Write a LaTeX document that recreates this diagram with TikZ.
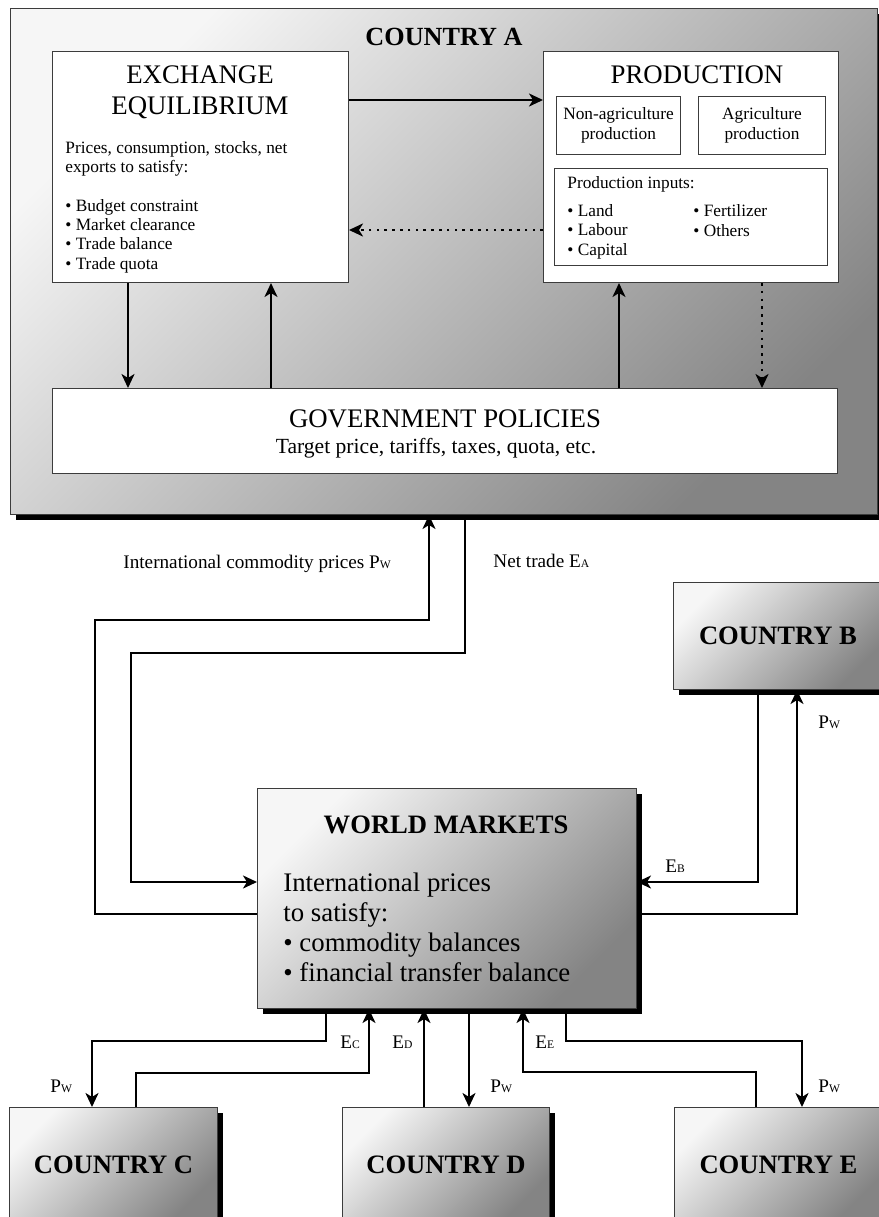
\documentclass[tikz,border=0pt]{standalone}
\usepackage{fontspec}
\setmainfont{Liberation Serif}
\usetikzlibrary{arrows.meta, shadows, positioning}
\definecolor{boxLine}{HTML}{3C3C3C}
\definecolor{shadeLight}{HTML}{F6F6F6}
\definecolor{shadeDark}{HTML}{848484}
\newcommand{\subcap}[1]{{\fontsize{5.8}{6}\selectfont #1}}
\tikzset{
  bigbox/.style   = {draw=boxLine, line width=0.5pt, top color=shadeLight,
                     bottom color=shadeDark, shading angle=45,
                     drop shadow={shadow xshift=2.5pt, shadow yshift=-2.5pt,
                                  fill=black, opacity=1},
                     inner sep=0pt, anchor=north west,
                     font=\bfseries\fontsize{13.3}{15}\selectfont},
  whitebox/.style = {draw=boxLine, line width=0.5pt, fill=white,
                     inner sep=0pt, anchor=north west},
  flow/.style     = {-{Stealth[length=7pt, width=6.5pt, inset=2pt]}, line width=1.1pt},
  dotflow/.style  = {flow, line width=1.3pt, dash pattern=on 1.3pt off 2.6pt},
  ttl/.style      = {inner sep=0pt, anchor=base, align=center,
                     font=\fontsize{13.4}{15.5}\selectfont},
  boxtxt/.style   = {inner sep=0pt, anchor=base west, align=left,
                     font=\fontsize{8.65}{9.65}\selectfont},
  lbl/.style      = {inner sep=0pt, anchor=base west,
                     font=\fontsize{9.6}{11}\selectfont},
}
\begin{document}
\begin{tikzpicture}[x=0.5pt, y=-0.5pt]
  \useasboundingbox (0,0) rectangle (879,1217);

  % country A and its blocks (multi-line texts sit on their last baseline)
  \node[bigbox, minimum width=433.5pt, minimum height=253pt] (ctyA) at (10,8) {};
  \node[ttl, font=\bfseries\fontsize{13.1}{15}\selectfont] (ctyAttl) at (444,45) {COUNTRY A};

  \node[whitebox, minimum width=148pt, minimum height=115.5pt] (exch) at (52,51) {};
  \node[ttl] (exchttl) at (200,114) {EXCHANGE\\EQUILIBRIUM};
  \node[boxtxt] (exchtxt) at (65,269) {Prices, consumption, stocks, net\\exports to satisfy:\\[9.65pt]
    \textbullet\ Budget constraint\\\textbullet\ Market clearance\\\textbullet\ Trade balance\\\textbullet\ Trade quota};

  \node[whitebox, minimum width=147.5pt, minimum height=115.5pt] (prod) at (543,51) {};
  \node[ttl] (prodttl) at (697,83) {PRODUCTION};
  \node[whitebox, minimum width=62pt, minimum height=29pt, align=center,
        font=\fontsize{8.65}{10}\selectfont] (nonag) at (556,96) {Non-agriculture\\production};
  \node[whitebox, minimum width=63.5pt, minimum height=29pt, align=center,
        font=\fontsize{8.65}{10}\selectfont] (agri) at (698,96) {Agriculture\\production};
  \node[whitebox, minimum width=136.5pt, minimum height=48.5pt] (inputs) at (554,168) {};
  \node[boxtxt] (inptxt) at (567,188) {Production inputs:};
  \node[boxtxt] (inpleft) at (567,255) {\textbullet\ Land\\\textbullet\ Labour\\\textbullet\ Capital};
  \node[boxtxt] (inpright) at (693,236) {\textbullet\ Fertilizer\\\textbullet\ Others};

  \node[whitebox, minimum width=392.5pt, minimum height=42.5pt] (gov) at (52,388) {};
  \node[ttl] (govttl) at (445,427) {GOVERNMENT POLICIES};
  \node[ttl, font=\fontsize{10.8}{12}\selectfont] (govtxt) at (436,453) {Target price, tariffs, taxes, quota, etc.};

  % world and the other countries
  \node[bigbox, minimum width=189.5pt, minimum height=110pt] (world) at (257,788) {};
  \node[ttl, font=\bfseries\fontsize{13.3}{15}\selectfont] (worldttl) at (446,833) {WORLD MARKETS};
  \node[boxtxt, font=\fontsize{13.4}{14.85}\selectfont] (worldtxt) at (283,981)
    {International prices\\to satisfy:\\\textbullet\ commodity balances\\\textbullet\ financial transfer balance};

  \node[bigbox, minimum width=104.5pt, minimum height=53.5pt] (ctyB) at (673,582) {COUNTRY B};
  \node[bigbox, minimum width=104pt, minimum height=57pt] (ctyC) at (9,1107) {COUNTRY C};
  \node[bigbox, minimum width=103.5pt, minimum height=57pt] (ctyD) at (342,1107) {COUNTRY D};
  \node[bigbox, minimum width=104pt, minimum height=57pt] (ctyE) at (674,1107) {COUNTRY E};

  % flows inside country A
  \draw[flow] (exch.east |- 0,100) -- (prod.west |- 0,100);
  \draw[dotflow] (prod.west |- 0,230) -- (exch.east |- 0,230);
  \draw[flow] (exch.south -| 128,0) -- (gov.north -| 128,0);
  \draw[flow] (gov.north -| 271,0) -- (exch.south -| 271,0);
  \draw[flow] (gov.north -| 619,0) -- (prod.south -| 619,0);
  \draw[dotflow] (prod.south -| 762,0) -- (gov.north -| 762,0);

  % trade flows
  \draw[flow] (world.west |- 0,914) -| (95,620) -| (ctyA.south -| 429,0);
  \draw[flow] (ctyA.south -| 465,0) |- (131,653) |- (world.west |- 0,882);
  \draw[flow] (ctyB.south -| 758,0) |- (world.east |- 0,882);
  \draw[flow] (world.east |- 0,914) -| (ctyB.south -| 797,0);
  \draw[flow] (world.south -| 326,0) |- (92,1041) -- (ctyC.north -| 92,0);
  \draw[flow] (ctyC.north -| 136,0) |- (369,1073) -- (world.south -| 369,0);
  \draw[flow] (ctyD.north -| 424,0) -- (world.south -| 424,0);
  \draw[flow] (world.south -| 469,0) -- (ctyD.north -| 469,0);
  \draw[flow] (ctyE.north -| 756,0) |- (523,1072) -- (world.south -| 523,0);
  \draw[flow] (world.south -| 566,0) |- (802,1041) -- (ctyE.north -| 802,0);

  \node[lbl] (pwA) at (123,568) {International commodity prices P\subcap{W}};
  \node[lbl] (eA) at (493,567) {Net trade E\subcap{A}};
  \node[lbl] (pwB) at (818,728) {P\subcap{W}};
  \node[lbl] (eB) at (665,872) {E\subcap{B}};
  \node[lbl] (pwC) at (50,1092) {P\subcap{W}};
  \node[lbl] (eC) at (340,1048) {E\subcap{C}};
  \node[lbl] (eD) at (392,1048) {E\subcap{D}};
  \node[lbl] (pwD) at (490,1092) {P\subcap{W}};
  \node[lbl] (eE) at (535,1048) {E\subcap{E}};
  \node[lbl] (pwE) at (818,1092) {P\subcap{W}};
\end{tikzpicture}
\end{document}
